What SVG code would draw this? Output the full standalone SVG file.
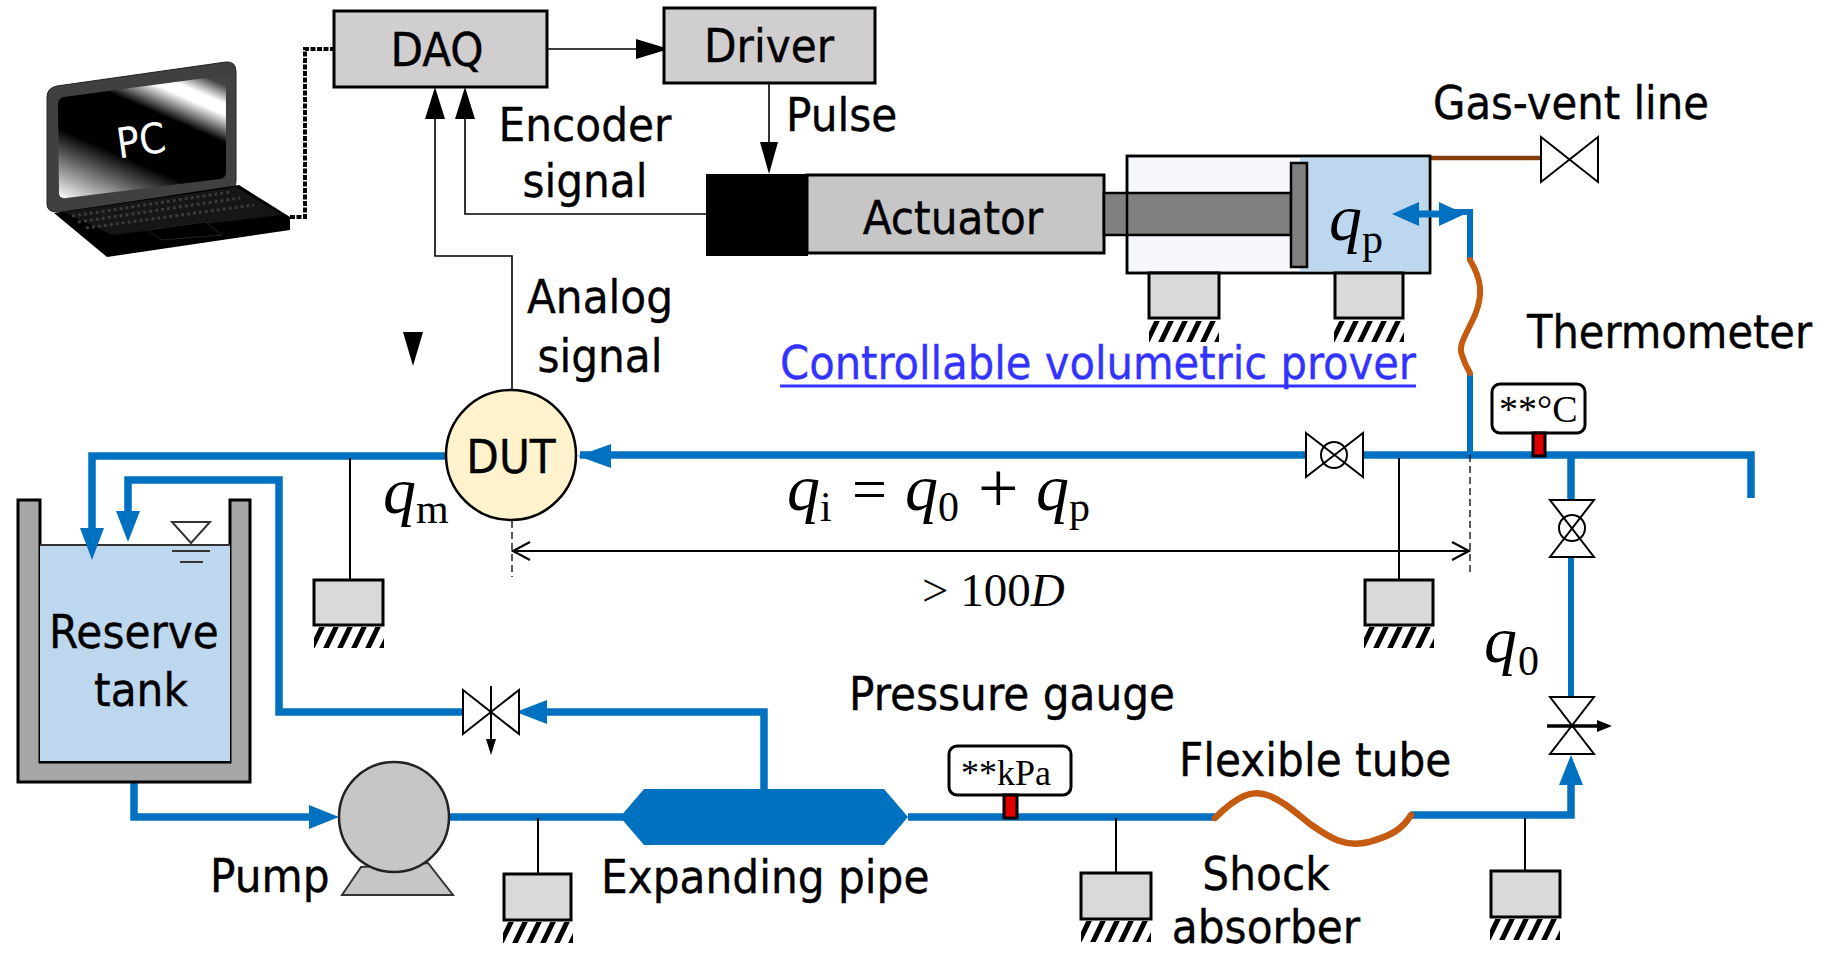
<svg xmlns="http://www.w3.org/2000/svg" xmlns:xlink="http://www.w3.org/1999/xlink" width="1824" height="955" viewBox="0 0 1824 955">
<style>
.t{font-family:"DejaVu Sans Condensed","DejaVu Sans",sans-serif;font-size:47px;fill:#000;stroke:#000;stroke-width:.35}
.m{font-family:"Liberation Serif",serif;fill:#000}
.q{font-style:italic;font-size:66px}
.s{font-size:42px}
.p{fill:none;stroke:#0070c0;stroke-width:7.5}
.b{fill:#0070c0}
.k{fill:none;stroke:#000;stroke-width:1.6}
.v{fill:#fff;stroke:#000;stroke-width:2}
.a{fill:#000}
.box{fill:#d0cece;stroke:#000;stroke-width:3}
.sup{fill:#d9d9d9;stroke:#000;stroke-width:3}
.h{stroke:#000;stroke-width:5}
</style>
<defs>
<linearGradient id="scr" gradientUnits="userSpaceOnUse" x1="190" y1="70" x2="122" y2="226">
<stop offset="0" stop-color="#444"/><stop offset=".1" stop-color="#fff"/><stop offset=".16" stop-color="#fff"/><stop offset=".31" stop-color="#000"/><stop offset=".62" stop-color="#000"/><stop offset="1" stop-color="#fff"/>
</linearGradient>
<clipPath id="hc"><rect x="0" y="0" width="70" height="21"/></clipPath>
<g id="hatch" clip-path="url(#hc)">
<path class="h" d="M-4 25L10 -4M10 25L24 -4M24 25L38 -4M38 25L52 -4M52 25L66 -4M66 25L80 -4"/>
</g>
</defs>

<g id="connectors">
<path class="k" d="M547 49H640"/>
<polygon class="a" points="636,39 669,49 636,59"/>
<path d="M290 217H305V49H337" fill="none" stroke="#000" stroke-width="4" stroke-dasharray="5 1.500"/>
<circle cx="336" cy="49" r="3.500" class="a"/>
<path class="k" d="M435 115V256H512V390"/>
<polygon class="a" points="435,87 445,119 425,119"/>
<path class="k" d="M465 115V214H706"/>
<polygon class="a" points="465,87 475,119 455,119"/>
<path class="k" d="M769 84V145"/>
<polygon class="a" points="760,142 778,142 769,174"/>
<polygon class="a" points="403,332 423,332 413,366"/>

<path class="p" d="M446 456H92V530"/>
<path class="p" d="M128 512V480H279V712H463"/>
<path class="p" d="M134 782V817H312"/>
<polygon class="b" points="339,817 309,805 309,829"/>
<path class="p" d="M445 817H630"/>
<polygon class="b" points="620,817 644,789 884,789 908,817 884,845 644,845"/>
<path class="p" d="M764 790V712H545"/>
<polygon class="b" points="516,712 547,700 547,724"/>
<path class="p" d="M580 455H1310"/>
<polygon class="b" points="578,456 611,444 611,468"/>
<path class="p" d="M1360 455H1751V498"/>
<path class="p" d="M1571 455V500"/>
<path class="p" d="M1571 557V697" style="stroke-width:6"/>
<path class="p" d="M908 817H1215"/>
<path class="p" d="M1411 815H1571V782"/>
<polygon class="b" points="1571,755 1559,785 1583,785"/>
<path fill="none" stroke="#c55a11" stroke-width="6.500" stroke-linecap="round" d="M1215 818C1238 795 1252 790 1267 795C1282 800 1295 812 1310 824C1330 838 1345 848 1369 842C1390 836 1402 830 1411 815"/>
<path class="p" d="M1470 455V373" style="stroke-width:6"/>
<path class="p" d="M1470 260V212H1440" style="stroke-width:6"/>
<path fill="none" stroke="#c55a11" stroke-width="6" stroke-linecap="round" d="M1470 260C1482 280 1483 295 1475 315C1466 335 1458 345 1462 355C1464 362 1467 368 1470 373"/>
<path d="M1430 158H1541" stroke="#843c0c" stroke-width="4.500" fill="none"/>

<path d="M512 521V577M1470 455V576" fill="none" stroke="#000" stroke-width="1.300" stroke-dasharray="7 4"/>
<path d="M512 551H1469" fill="none" stroke="#000" stroke-width="2.200"/>
<path d="M530 542L513 551L530 560M1452 542L1469 551L1452 560" fill="none" stroke="#000" stroke-width="2.200"/>
<path class="k" style="stroke-width:2" d="M350 458V580M1399 458V580M538 818V874M1116 818V873M1525 818V871"/>
</g>

<g id="pc">
<path d="M47 97Q47 88 57 86L226 62Q236 61 236 72V180Q236 190 230 192L57 212Q47 212 47 204Z" fill="#404040" stroke="#222" stroke-width="1"/>
<path d="M58 104Q58 98 64 97L220 76Q226 75 226 81V172Q226 178 220 179L66 198Q59 199 59 193Z" fill="url(#scr)"/>
<polygon points="54,213 239,185 290,217 290,230 107,257" fill="#000"/>
<polygon points="64,212 236,187 282,215 112,235" fill="#161616"/>
<path d="M72 216L230 192M78 222L240 198M86 228L254 205" stroke="#3a3a3a" stroke-width="3" stroke-dasharray="3 3" fill="none"/>
<polygon points="148,230 205,222 222,235 162,240" fill="#000" stroke="#222" stroke-width="1"/>
<text x="143" y="155" text-anchor="middle" transform="rotate(-8 143 155)" class="t" style="fill:#fff;stroke:none;font-size:42px">PC</text>
</g>
<g id="daq"><rect class="box" x="334" y="11" width="213" height="76"/><text class="t" x="437" y="66" text-anchor="middle">DAQ</text></g>
<g id="driver"><rect class="box" x="664" y="8" width="211" height="75"/><text class="t" x="769" y="62" text-anchor="middle">Driver</text></g>
<g id="encoder-label"><text class="t" x="585" y="141" text-anchor="middle">Encoder</text><text class="t" x="585" y="197" text-anchor="middle">signal</text></g>
<g id="pulse-label"><text class="t" x="786" y="131">Pulse</text></g>
<g id="analog-label"><text class="t" x="600" y="313" text-anchor="middle">Analog</text><text class="t" x="600" y="372" text-anchor="middle">signal</text></g>
<g id="actuator">
<rect x="706" y="174" width="102" height="82" fill="#000"/>
<rect x="807" y="175" width="297" height="78" fill="#c6c6c6" stroke="#000" stroke-width="3"/>
<text class="t" x="953" y="234" text-anchor="middle">Actuator</text>
</g>
<g id="prover">
<rect x="1127" y="156" width="303" height="117" fill="#f5f7fc" stroke="#000" stroke-width="2.500"/>
<rect x="1300" y="157.500" width="128.500" height="114" fill="#bdd7ee"/>
<rect x="1104" y="193" width="187" height="42" fill="#7f7f7f" stroke="#000" stroke-width="2.500"/>
<rect x="1291" y="163" width="16" height="104" fill="#7f7f7f" stroke="#000" stroke-width="2.500"/>
<path d="M1127 156H1430V273H1127Z" fill="none" stroke="#000" stroke-width="2.500"/>
<text class="m q" x="1329" y="240">q</text><text class="m s" x="1362" y="253">p</text>
</g>
<g id="support-1"><rect class="sup" x="1149" y="273" width="70" height="45"/><use xlink:href="#hatch" href="#hatch" x="1149" y="321"/></g>
<g id="support-2"><rect class="sup" x="1335" y="273" width="68" height="45"/><use xlink:href="#hatch" href="#hatch" x="1334" y="321"/></g>
<g id="vent-valve"><polygon class="v" points="1541,137 1598,182 1598,137 1541,182"/><text class="t" x="1433" y="119" style="font-size:46.500px">Gas-vent line</text></g>
<g id="prover-label">
<text class="t" x="780" y="379" style="fill:#3333ff;stroke:#3333ff" textLength="636" lengthAdjust="spacingAndGlyphs">Controllable volumetric prover</text>
<path d="M780 386H1416" stroke="#3333ff" stroke-width="3"/>
</g>
<g id="thermometer">
<text class="t" x="1527" y="348" style="font-size:46.300px">Thermometer</text>
<rect x="1492" y="384" width="93" height="49" rx="8" fill="#fff" stroke="#000" stroke-width="3"/>
<text class="m" x="1499" y="422" font-size="38">**°C</text>
<rect x="1533" y="433" width="12" height="23" fill="#e00000" stroke="#000" stroke-width="3"/>
</g>
<g id="dut"><circle cx="511" cy="455" r="65" fill="#fff2cc" stroke="#000" stroke-width="2.500"/><text class="t" x="511" y="473" text-anchor="middle">DUT</text></g>
<g id="qm"><text class="m q" x="383" y="513">q</text><text class="m s" x="416" y="523">m</text></g>
<g id="valve-1"><polygon class="v" points="1306,433 1363,477 1363,433 1306,477"/><circle cx="1334" cy="455" r="13" fill="none" stroke="#000" stroke-width="2"/></g>
<g id="qi">
<text class="m q" x="787" y="510">q</text><text class="m s" x="820" y="521">i</text>
<text class="m" x="852" y="510" font-size="62">=</text>
<text class="m q" x="905" y="510">q</text><text class="m s" x="938" y="521">0</text>
<text class="m" x="978" y="512" font-size="72">+</text>
<text class="m q" x="1036" y="510">q</text><text class="m s" x="1069" y="521">p</text>
</g>
<g id="length-label"><text class="m" x="922" y="606" font-size="47">&gt; 100<tspan font-style="italic">D</tspan></text></g>
<g id="support-3"><rect class="sup" x="314" y="580" width="69" height="45"/><use xlink:href="#hatch" href="#hatch" x="314" y="627"/></g>
<g id="support-4"><rect class="sup" x="1365" y="580" width="68" height="45"/><use xlink:href="#hatch" href="#hatch" x="1364" y="627"/></g>
<g id="valve-2"><polygon class="v" points="1550,500 1594,500 1550,557 1594,557"/><circle cx="1572" cy="528" r="13" fill="none" stroke="#000" stroke-width="2"/></g>
<g id="q0"><text class="m q" x="1484" y="662">q</text><text class="m s" x="1518" y="675">0</text></g>
<g id="valve-3">
<polygon class="v" points="1550,697 1594,697 1550,754 1594,754"/>
<path d="M1547 726H1600" stroke="#000" stroke-width="3.500"/>
<polygon class="a" points="1597,720 1612,726 1597,732"/>
</g>
<g id="tank">
<path d="M18 500H40V762H230V500H250V782H18Z" fill="#a6a6a6" stroke="#000" stroke-width="3"/>
<rect x="40" y="545" width="190" height="216" fill="#bdd7ee"/>
<path d="M40 545H230" stroke="#333" stroke-width="2"/>
<polygon points="172,522 210,522 191,543" fill="#fff" stroke="#333" stroke-width="2"/>
<path d="M172 551H210M180 562H203" stroke="#333" stroke-width="2"/>
<text class="t" x="134" y="648" text-anchor="middle">Reserve</text>
<text class="t" x="141" y="706" text-anchor="middle">tank</text>
</g>
<g id="valve-4">
<polygon class="v" points="463,690 519,734 519,690 463,734"/>
<path d="M491 686V742" stroke="#000" stroke-width="2"/>
<polygon class="a" points="486,739 496,739 491,755"/>
</g>
<g id="pump">
<polygon points="361,867 342,895 453,895 428,863" fill="#c6c6c6" stroke="#333" stroke-width="2"/>
<circle cx="394" cy="817" r="55" fill="#c6c6c6" stroke="#222" stroke-width="2.500"/>
<text class="t" x="210" y="892">Pump</text>
</g>
<g id="support-5"><rect class="sup" x="504" y="874" width="67" height="46"/><use xlink:href="#hatch" href="#hatch" x="503" y="922"/></g>
<g id="expanding-label"><text class="t" x="601" y="893">Expanding pipe</text></g>
<g id="pressure-gauge">
<text class="t" x="849" y="710">Pressure gauge</text>
<rect x="949" y="746" width="122" height="49" rx="8" fill="#fff" stroke="#000" stroke-width="3"/>
<text class="m" x="961" y="785" font-size="36">**kPa</text>
<rect x="1004" y="795" width="13" height="23" fill="#e00000" stroke="#000" stroke-width="3"/>
</g>
<g id="support-6"><rect class="sup" x="1081" y="873" width="70" height="46"/><use xlink:href="#hatch" href="#hatch" x="1081" y="921"/></g>
<g id="flex-label"><text class="t" x="1179" y="776">Flexible tube</text></g>
<g id="shock-label"><text class="t" x="1266" y="890" text-anchor="middle">Shock</text><text class="t" x="1266" y="943" text-anchor="middle">absorber</text></g>
<g id="support-7"><rect class="sup" x="1491" y="871" width="69" height="46"/><use xlink:href="#hatch" href="#hatch" x="1490" y="919"/></g>

<g id="connectors-top">
<polygon class="b" points="92,560 80,528 104,528"/>
<polygon class="b" points="128,542 116,511 140,511"/>
<path class="p" d="M1415 214H1445" style="stroke-width:7"/>
<polygon class="b" points="1392,214 1419,202 1419,226"/>
<polygon class="b" points="1465,214 1439,202 1439,226"/>
</g>
</svg>
